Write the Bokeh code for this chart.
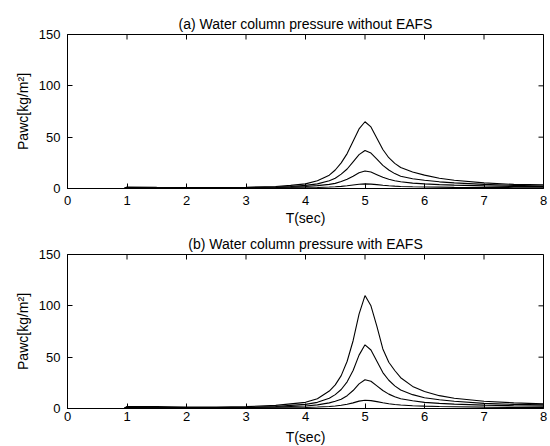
import math
from bokeh.plotting import figure
from bokeh.layouts import column
from bokeh.models import Range1d, FixedTicker
from bokeh.embed import file_html
from bokeh.resources import INLINE

# ---- data ----
T = [0, 0.95, 1.0, 1.5, 2.0, 2.5, 3.0, 3.5, 3.75, 4.0, 4.2, 4.4, 4.5, 4.6, 4.7, 4.8, 4.9,
     5.0, 5.1, 5.2, 5.3, 5.4, 5.5, 5.6, 5.8, 6.0, 6.25, 6.5, 7.0, 7.5, 8.0]

# (a) without EAFS
a1 = [0, 0, 1.5, 1.2, 1.0, 1.0, 1.2, 2.0, 3.0, 4.5, 7.5, 13, 18, 25, 34, 46, 58,
      65, 60, 49, 38, 30, 24.5, 20.5, 16, 13, 10, 8, 5.5, 4, 3.5]
a2 = [0, 0, 1.0, 0.8, 0.8, 0.8, 1.0, 1.5, 2.0, 3.0, 4.5, 7.5, 10, 14, 19, 26, 33,
      37, 34.5, 28.5, 22.5, 18, 14.5, 12, 9.5, 8, 6.5, 5.5, 4, 3, 2.5]
a3 = [0, 0, 0.7, 0.5, 0.5, 0.5, 0.7, 1.0, 1.3, 2.0, 2.8, 4, 5, 6.8, 9, 12, 15.3,
      17, 16, 13.5, 11, 9, 7.5, 6.5, 5.2, 4.5, 3.8, 3.3, 2.6, 2, 1.8]
a4 = [0, 0, 0.3, 0.3, 0.3, 0.3, 0.4, 0.5, 0.6, 0.8, 1.0, 1.4, 1.7, 2.1, 2.7, 3.4, 4.1,
      4.5, 4.3, 3.8, 3.2, 2.7, 2.3, 2.0, 1.7, 1.5, 1.3, 1.1, 0.9, 0.8, 0.7]

# (b) with EAFS
b1 = [0, 0, 2.0, 1.8, 1.5, 1.5, 1.8, 3.0, 4.5, 6, 9.5, 17, 23, 32, 46, 66, 92,
      110, 100, 80, 58, 45, 37, 30, 21.5, 16.5, 12.5, 10, 7, 5.5, 4.5]
b2 = [0, 0, 1.5, 1.2, 1.0, 1.0, 1.2, 2.0, 3.0, 4, 6, 10, 13.5, 18.5, 26, 37, 52,
      62, 57, 46, 35, 27.5, 22, 18, 13.5, 10.5, 8.5, 7, 5, 4, 3.5]
b3 = [0, 0, 1.0, 0.8, 0.7, 0.7, 0.9, 1.4, 2.0, 2.5, 3.5, 5.5, 7, 9, 12.5, 17.5, 24,
      28, 26.5, 22, 17.5, 14, 11.5, 9.5, 7.5, 6, 5, 4.3, 3.3, 2.7, 2.3]
b4 = [0, 0, 0.5, 0.4, 0.4, 0.4, 0.5, 0.7, 0.8, 1.0, 1.4, 2.0, 2.5, 3.1, 4.2, 5.5, 7.2,
      8, 7.7, 6.7, 5.6, 4.6, 3.9, 3.4, 2.7, 2.3, 1.9, 1.7, 1.3, 1.1, 1.0]

x_ticks = [0, 1, 2, 3, 4, 5, 6, 7, 8]
y_ticks = [0, 50, 100, 150]

FONT = "Liberation Sans"


def make_panel(title, series, top, bottom, tick_standoff, label_standoff):
    xmin, xmax = x_ticks[0], x_ticks[-1]
    ymin, ymax = y_ticks[0], y_ticks[-1]
    p = figure(frame_width=476, frame_height=154,
               x_range=Range1d(xmin, xmax), y_range=Range1d(ymin, ymax),
               output_backend="svg", toolbar_location=None,
               min_border_left=67, min_border_right=7,
               min_border_top=top, min_border_bottom=bottom)
    p.title.text = title
    p.title.align = "center"
    p.title.text_font = FONT
    p.title.text_font_size = "14px"
    p.title.text_font_style = "normal"
    p.title.text_color = "black"
    p.title.standoff = 5
    p.xgrid.visible = False
    p.ygrid.visible = False
    p.outline_line_color = "black"
    p.outline_line_width = 1
    p.outline_line_alpha = 1

    for ys in series:
        p.line(T, ys, line_color="black", line_width=1.1)

    # mirrored inward ticks on the top and right edges
    p.ray(x=x_ticks, y=[ymax] * len(x_ticks), length=5, length_units="screen",
          angle=-math.pi / 2, line_color="black", line_width=1)
    p.ray(x=[xmax] * len(y_ticks), y=y_ticks, length=5, length_units="screen",
          angle=math.pi, line_color="black", line_width=1)

    p.xaxis.ticker = FixedTicker(ticks=x_ticks)
    p.yaxis.ticker = FixedTicker(ticks=y_ticks)
    p.xaxis.axis_label = "T(sec)"
    p.yaxis.axis_label = "Pawc[kg/m²]"
    for ax in (p.xaxis[0], p.yaxis[0]):
        ax.major_tick_in = 5
        ax.major_tick_out = 0
        ax.minor_tick_in = 0
        ax.minor_tick_out = 0
        ax.axis_line_color = "black"
        ax.major_tick_line_color = "black"
        ax.major_label_text_font = FONT
        ax.major_label_text_font_size = "13px"
        ax.major_label_text_color = "black"
        ax.axis_label_text_font = FONT
        ax.axis_label_text_font_size = "14px"
        ax.axis_label_text_font_style = "normal"
        ax.axis_label_text_color = "black"
    p.xaxis.major_label_standoff = tick_standoff
    p.yaxis.major_label_standoff = 7
    p.xaxis.axis_label_standoff = label_standoff
    p.yaxis.axis_label_standoff = 5
    return p


p1 = make_panel("(a) Water column pressure without EAFS", [a1, a2, a3, a4], 34, 43, 7, 2)
p2 = make_panel("(b) Water column pressure with EAFS", [b1, b2, b3, b4], 23, 38, 3, 5)

layout = column(p1, p2, spacing=0)
open("out.html", "w").write(file_html(layout, INLINE))
